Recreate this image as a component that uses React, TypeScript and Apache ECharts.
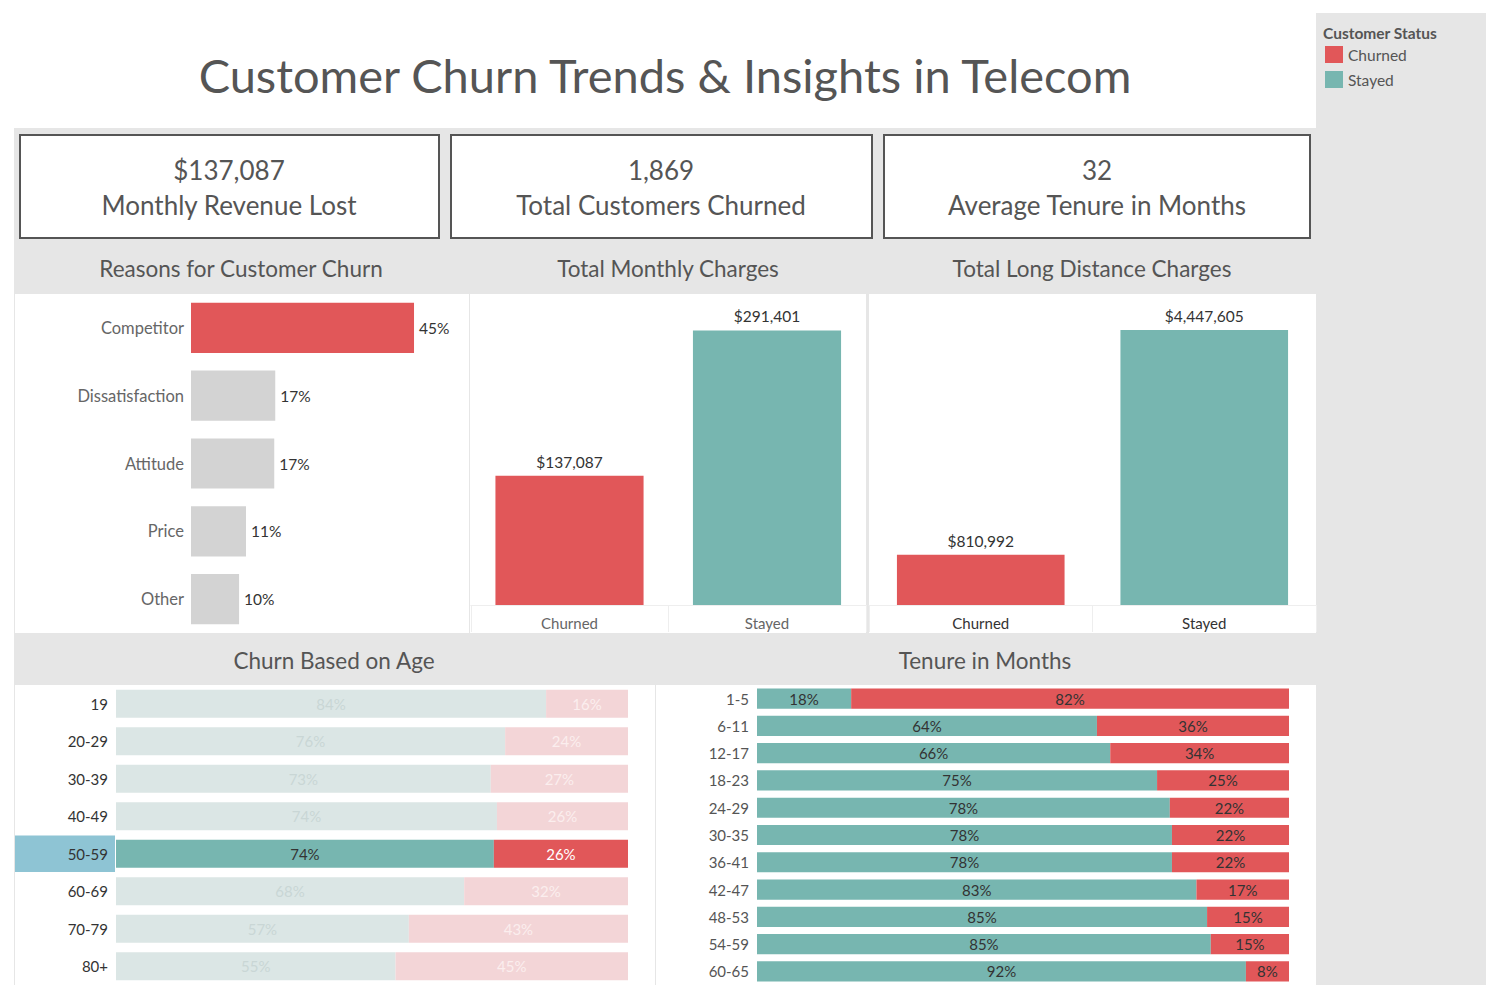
import React, { useEffect, useRef } from "react";
import * as echarts from "echarts";

const FONT = "Lato";
const RED = "#e15759";
const TEAL = "#77b6b0";
const RED_FADED = "#f3d5d7";
const TEAL_FADED = "#dbe6e5";
const GREY_BAR = "#d3d3d3";
const PANEL = "#e6e6e6";

const titleText = "Customer Churn Trends & Insights in Telecom";
const kpiValues = ["$137,087", "1,869", "32"];
const kpiLabels = ["Monthly Revenue Lost", "Total Customers Churned", "Average Tenure in Months"];
const sectionTitles = ["Reasons for Customer Churn", "Total Monthly Charges", "Total Long Distance Charges"];
const bottomTitles = ["Churn Based on Age", "Tenure in Months"];
const legendTitle = "Customer Status";

const reasonCats = ["Competitor", "Dissatisfaction", "Attitude", "Price", "Other"];
const reasonPct = [45.0, 17.0, 16.8, 11.1, 9.7];

const statusCats = ["Churned", "Stayed"];
const monthlyCharges = [137087, 291401];
const longDistCharges = [810992, 4447605];

const ageCats = ["19", "20-29", "30-39", "40-49", "50-59", "60-69", "70-79", "80+"];
const ageStayed = [84.0, 76.0, 73.2, 74.4, 73.8, 68.0, 57.2, 54.6];
const ageChurned = [16.0, 24.0, 26.8, 25.6, 26.2, 32.0, 42.8, 45.4];
const ageHighlight = "50-59";

const tenureCats = ["1-5", "6-11", "12-17", "18-23", "24-29", "30-35", "36-41", "42-47", "48-53", "54-59", "60-65"];
const tenureStayed = [17.7, 63.9, 66.4, 75.2, 77.6, 78.0, 78.0, 82.6, 84.6, 85.3, 91.9];
const tenureChurned = [82.3, 36.1, 33.6, 24.8, 22.4, 22.0, 22.0, 17.4, 15.4, 14.7, 8.1];

const money = (v: number) => "$" + Math.round(v).toLocaleString("en-US");
const pct = (v: number) => Math.round(v) + "%";

function txt(text: string, x: number, y: number, size: number, fill: string, align = "center", weight = "normal") {
  return {
    type: "text",
    x,
    y,
    silent: true,
    style: {
      text,
      fill,
      fontSize: size,
      fontFamily: FONT,
      fontWeight: weight,
      textAlign: align,
      textVerticalAlign: "middle",
    },
  };
}

function box(x: number, y: number, w: number, h: number, fill: string, stroke?: string, lw = 0) {
  return {
    type: "rect",
    shape: { x, y, width: w, height: h },
    silent: true,
    style: stroke ? { fill, stroke, lineWidth: lw } : { fill },
  };
}

export default function App() {
  const ref = useRef<HTMLDivElement>(null);

  useEffect(() => {
    if (!ref.current) return;
    const chart = echarts.init(ref.current, undefined, { renderer: "svg" });

    const graphics: any[] = [
      box(1316, 13, 170, 972, PANEL),
      box(14, 128, 1302, 857, PANEL),
      box(20, 135, 419, 103, "#ffffff", "#555555", 2),
      box(451, 135, 421, 103, "#ffffff", "#555555", 2),
      box(884, 135, 426, 103, "#ffffff", "#555555", 2),
      box(15, 294, 454, 339, "#ffffff"),
      box(470, 294, 396, 339, "#ffffff"),
      box(869, 294, 447, 339, "#ffffff"),
      box(15, 685, 640, 300, "#ffffff"),
      box(656, 685, 660, 300, "#ffffff"),
      txt(titleText, 665, 75, 47, "#555555"),
      txt(kpiValues[0], 229, 170, 26, "#555555"),
      txt(kpiLabels[0], 229, 205, 26, "#555555"),
      txt(kpiValues[1], 661, 170, 26, "#555555"),
      txt(kpiLabels[1], 661, 205, 26, "#555555"),
      txt(kpiValues[2], 1097, 170, 26, "#555555"),
      txt(kpiLabels[2], 1097, 205, 26, "#555555"),
      txt(sectionTitles[0], 241, 268, 22.5, "#555555"),
      txt(sectionTitles[1], 668, 268, 22.5, "#555555"),
      txt(sectionTitles[2], 1092, 268, 22.5, "#555555"),
      txt(bottomTitles[0], 334, 660, 22.5, "#555555"),
      txt(bottomTitles[1], 985, 660, 22.5, "#555555"),
      txt(legendTitle, 1323, 33, 15.5, "#555555", "left", "bold"),
    ];

    const option: any = {
      animation: false,
      textStyle: { fontFamily: FONT },
      graphic: { elements: graphics },
      legend: {
        data: ["Churned", "Stayed"],
        orient: "vertical",
        left: 1325,
        top: 46,
        padding: 0,
        icon: "rect",
        itemWidth: 18,
        itemHeight: 17,
        itemGap: 8,
        selectedMode: false,
        textStyle: { color: "#555555", fontSize: 15.5, fontFamily: FONT },
      },
      grid: [
        { left: 191, top: 294, width: 247.8, height: 339 },
        { left: 470.75, top: 294, width: 395, height: 311 },
        { left: 869, top: 294, width: 447, height: 311 },
        { left: 116, top: 685, width: 512, height: 300 },
        { left: 757, top: 685, width: 532, height: 300 },
      ],
      xAxis: [
        { gridIndex: 0, type: "value", min: 0, max: 50, show: false },
        {
          gridIndex: 1,
          type: "category",
          data: statusCats,
          axisLine: { lineStyle: { color: "#eeeeee" } },
          axisTick: { show: true, length: 27, lineStyle: { color: "#eeeeee" } },
          axisLabel: { color: "#666666", fontSize: 15, margin: 10, fontFamily: FONT },
        },
        {
          gridIndex: 2,
          type: "category",
          data: statusCats,
          axisLine: { lineStyle: { color: "#eeeeee" } },
          axisTick: { show: true, length: 27, lineStyle: { color: "#eeeeee" } },
          axisLabel: { color: "#333333", fontSize: 15, margin: 10, fontFamily: FONT },
        },
        { gridIndex: 3, type: "value", min: 0, max: 100, show: false },
        { gridIndex: 4, type: "value", min: 0, max: 100, show: false },
      ],
      yAxis: [
        {
          gridIndex: 0,
          type: "category",
          data: reasonCats,
          inverse: true,
          axisLine: { show: false },
          axisTick: { show: false },
          axisLabel: { color: "#666666", fontSize: 16.5, margin: 7, fontFamily: FONT },
        },
        { gridIndex: 1, type: "value", min: 0, max: 330000, show: false },
        { gridIndex: 2, type: "value", min: 0, max: 5030000, show: false },
        {
          gridIndex: 3,
          type: "category",
          data: ageCats,
          inverse: true,
          axisLine: { show: false },
          axisTick: { show: false },
          axisLabel: { color: "#333333", fontSize: 15, margin: 8, fontFamily: FONT },
        },
        {
          gridIndex: 4,
          type: "category",
          data: tenureCats,
          inverse: true,
          axisLine: { show: false },
          axisTick: { show: false },
          axisLabel: { color: "#555555", fontSize: 15, margin: 8, fontFamily: FONT },
        },
      ],
      series: [
        {
          name: "Churn Reason",
          type: "bar",
          xAxisIndex: 0,
          yAxisIndex: 0,
          barCategoryGap: "26%",
          data: reasonPct.map((v, i) => ({
            value: v,
            itemStyle: { color: i === 0 ? RED : GREY_BAR },
          })),
          label: {
            show: true,
            position: "right",
            distance: 5,
            color: "#333333",
            fontSize: 15.5,
            fontFamily: FONT,
            formatter: (p: any) => pct(p.value),
          },
        },
        {
          name: "Total Monthly Charges",
          type: "bar",
          xAxisIndex: 1,
          yAxisIndex: 1,
          barCategoryGap: "25%",
          data: monthlyCharges.map((v, i) => ({ value: v, itemStyle: { color: i === 0 ? RED : TEAL } })),
          label: {
            show: true,
            position: "top",
            distance: 6,
            color: "#333333",
            fontSize: 15.5,
            fontFamily: FONT,
            formatter: (p: any) => money(p.value),
          },
        },
        {
          name: "Total Long Distance Charges",
          type: "bar",
          xAxisIndex: 2,
          yAxisIndex: 2,
          barCategoryGap: "25%",
          data: longDistCharges.map((v, i) => ({ value: v, itemStyle: { color: i === 0 ? RED : TEAL } })),
          label: {
            show: true,
            position: "top",
            distance: 6,
            color: "#333333",
            fontSize: 15.5,
            fontFamily: FONT,
            formatter: (p: any) => money(p.value),
          },
        },
        {
          name: "Stayed",
          type: "bar",
          xAxisIndex: 3,
          yAxisIndex: 3,
          stack: "age",
          barCategoryGap: "25%",
          itemStyle: { color: TEAL },
          data: ageStayed.map((v, i) => {
            const hl = ageCats[i] === ageHighlight;
            return {
              value: v,
              itemStyle: { color: hl ? TEAL : TEAL_FADED },
              label: { color: hl ? "#333333" : "#c9d6d5" },
            };
          }),
          label: {
            show: true,
            position: "inside",
            fontSize: 15,
            fontFamily: FONT,
            formatter: (p: any) => pct(p.value),
          },
        },
        {
          name: "Churned",
          type: "bar",
          xAxisIndex: 3,
          yAxisIndex: 3,
          stack: "age",
          barCategoryGap: "25%",
          itemStyle: { color: RED },
          data: ageChurned.map((v, i) => {
            const hl = ageCats[i] === ageHighlight;
            return {
              value: v,
              itemStyle: { color: hl ? RED : RED_FADED },
              label: { color: hl ? "#ffffff" : "#fbeeee" },
            };
          }),
          label: {
            show: true,
            position: "inside",
            fontSize: 15,
            fontFamily: FONT,
            formatter: (p: any) => pct(p.value),
          },
        },
        {
          name: "Stayed",
          type: "bar",
          xAxisIndex: 4,
          yAxisIndex: 4,
          stack: "tenure",
          barCategoryGap: "26%",
          itemStyle: { color: TEAL },
          data: tenureStayed,
          label: {
            show: true,
            position: "inside",
            color: "#333333",
            fontSize: 15,
            fontFamily: FONT,
            formatter: (p: any) => pct(p.value),
          },
        },
        {
          name: "Churned",
          type: "bar",
          xAxisIndex: 4,
          yAxisIndex: 4,
          stack: "tenure",
          barCategoryGap: "26%",
          itemStyle: { color: RED },
          data: tenureChurned,
          label: {
            show: true,
            position: "inside",
            color: "#333333",
            fontSize: 15,
            fontFamily: FONT,
            formatter: (p: any) => pct(p.value),
          },
        },
      ],
    };

    chart.setOption(option);

    // Highlight band behind the selected age label, positioned from the axis scale
    const yc = chart.convertToPixel({ yAxisIndex: 3 }, ageHighlight) as number;
    const band = 300 / ageCats.length;
    chart.setOption({
      graphic: {
        elements: [
          {
            id: "ageHighlight",
            type: "rect",
            silent: true,
            shape: { x: 15, y: yc - band / 2 + 0.5, width: 100, height: band - 1 },
            style: { fill: "#8ec4d4" },
          },
        ],
      },
    });

    return () => chart.dispose();
  }, []);

  return (
    <div
      ref={ref}
      style={{ position: "fixed", left: 0, top: 0, width: 1499, height: 999, background: "#ffffff" }}
    />
  );
}
